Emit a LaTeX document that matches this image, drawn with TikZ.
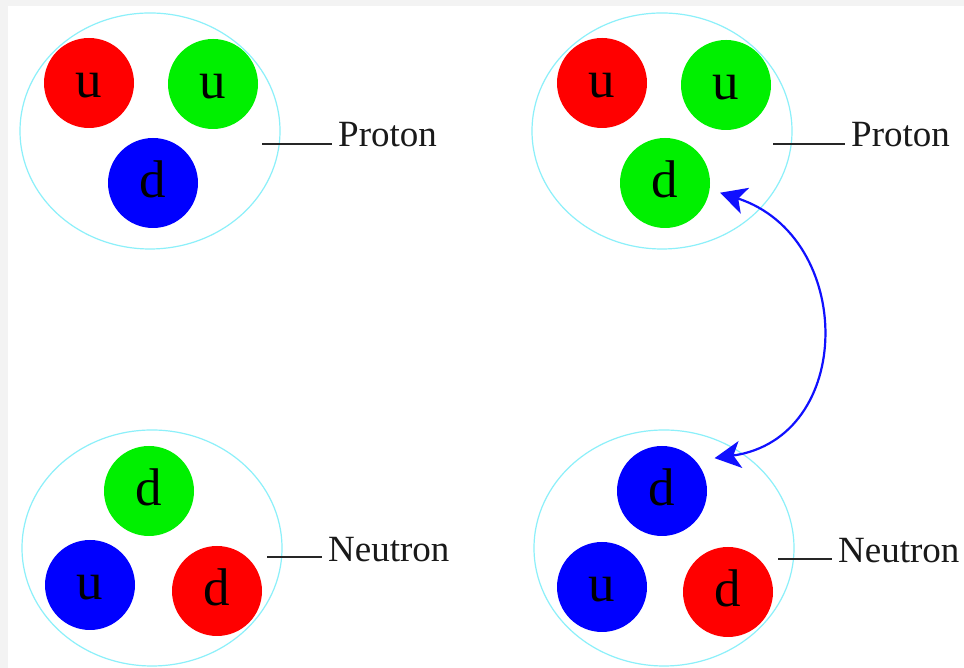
\documentclass[tikz,border=0pt]{standalone}
\usepackage{fontspec}
\setmainfont{Liberation Serif}
\usetikzlibrary{arrows.meta}
\definecolor{pagegray}{HTML}{F3F3F3}
\definecolor{hadronrim}{HTML}{8CF0FA}
\definecolor{qred}{HTML}{FF0000}
\definecolor{qgreen}{HTML}{00F000}
\definecolor{qblue}{HTML}{0000FF}
\definecolor{swapblue}{HTML}{1010FF}
\tikzset{swaptip/.tip={Stealth[length=26pt, width=27pt, inset=7pt]}}

\begin{document}
\begin{tikzpicture}[x=1pt, y=1pt,
  quark/.style={circle, minimum size=90pt, inner sep=0pt, text height=30pt, text depth=0pt,
    font=\fontsize{53}{53}\selectfont},
  hadron/.style={draw=hadronrim, line width=1.2pt},
  lbl/.style={anchor=base west, inner sep=0pt, text=black!90, font=\fontsize{37}{37}\selectfont},
  tag/.style={black!85, line width=1.6pt}]
  %% ── Page ───────────────────────────────────────────────────
  \fill[pagegray] (0,0) rectangle (964,668);
  \fill[white]    (8,0) rectangle (964,662);
  %% ── Hadron outlines ────────────────────────────────────────
  \foreach \cx/\cy in {150/537, 662/537, 152/120, 664/120}{
    \draw[hadron] (\cx,\cy) ellipse [x radius=130pt, y radius=118pt];
  }
  %% ── Quarks: name / x / y / colour / flavour ─────────────────
  \foreach \nm/\qx/\qy/\qc/\fl in {
    a1/89/585/qred/u,  a2/213/584/qgreen/u, a3/153/485/qblue/d,
    b1/602/585/qred/u, b2/726/583/qgreen/u, b3/665/485/qgreen/d,
    c1/149/177/qgreen/d, c2/90/83/qblue/u,  c3/217/77/qred/d,
    d1/662/177/qblue/d,  d2/602/81/qblue/u, d3/728/76/qred/d}{
    \node[quark, fill=\qc] (\nm) at (\qx,\qy) {\fl};
  }
  %% ── Labels: name / text x / baseline / line start / line y ──
  \foreach \nm/\lx/\ly/\sx/\sy/\txt in {
    pa/338/521/262/524/Proton,  pb/851/521/773/524/Proton,
    na/328/106/267/111/Neutron, nb/838/105/778/109/Neutron}{
    \node[lbl] (\nm) at (\lx,\ly) {\txt};
    \coordinate (\nm s) at (\sx,\sy);
    \draw[tag, shorten >=6pt] (\nm s) -- (\nm.base west |- \nm s);
  }
  %% ── Colour swap arrow ──────────────────────────────────────
  \coordinate (swtop) at ([shift={(-10:56pt)}]b3.center);
  \coordinate (swbot) at ([shift={(32:62pt)}]d1.center);
  \draw[swapblue, line width=2.2pt, swaptip-swaptip]
    (swtop) to[out=-18, in=8, looseness=1.37] (swbot);
\end{tikzpicture}
\end{document}
